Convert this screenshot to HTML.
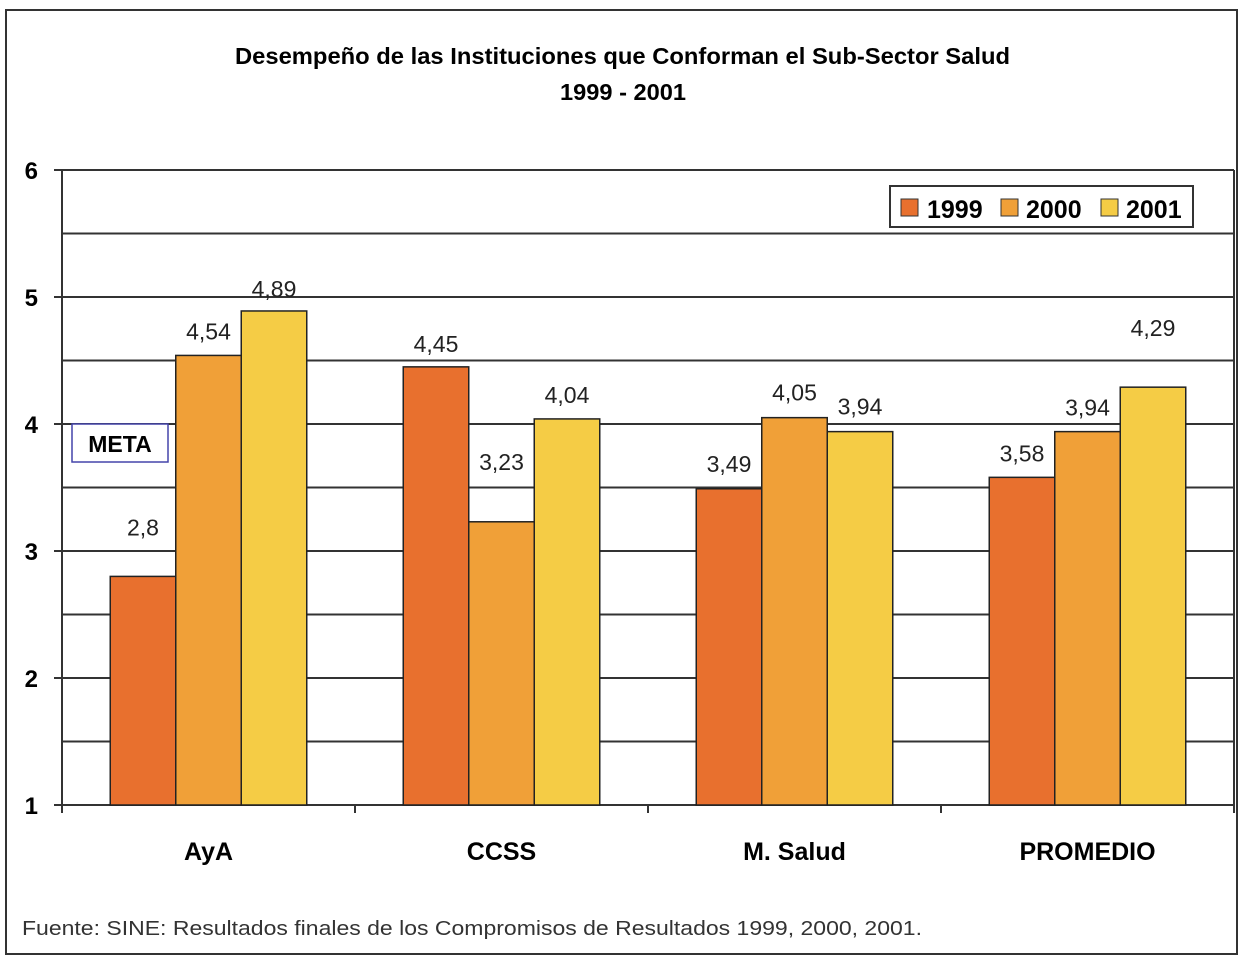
<!DOCTYPE html>
<html><head><meta charset="utf-8"><style>
body{margin:0;background:#fff;}
svg{display:block;font-family:"Liberation Sans",Arial,sans-serif;}
</style></head><body>
<svg id="chart" width="1248" height="958" viewBox="0 0 1248 958">
<rect x="6" y="10" width="1231" height="944" fill="#fff" stroke="#333" stroke-width="2"/>
<text x="235" y="64" font-size="23" font-weight="bold" textLength="775" lengthAdjust="spacingAndGlyphs">Desempeño de las Instituciones que Conforman el Sub-Sector Salud</text>
<text x="560" y="100" font-size="23" font-weight="bold" textLength="126" lengthAdjust="spacingAndGlyphs">1999 - 2001</text>
<g id="grid"></g>
<g id="bars"></g>
<g id="labels"></g>
<rect x="72" y="424" width="96" height="38" fill="#fff" stroke="#4444aa" stroke-width="1.5"/>
<text x="120" y="452" text-anchor="middle" font-size="23" font-weight="bold">META</text>
<g>
<rect x="890" y="186" width="303" height="41" fill="#fff" stroke="#333" stroke-width="2"/>
<rect x="901" y="199" width="17" height="17" fill="#E8702E" stroke="#333"/>
<text x="927" y="218" font-size="25" font-weight="bold">1999</text>
<rect x="1001" y="199" width="17" height="17" fill="#F0A038" stroke="#333"/>
<text x="1026" y="218" font-size="25" font-weight="bold">2000</text>
<rect x="1101" y="199" width="17" height="17" fill="#F5CC45" stroke="#333"/>
<text x="1126" y="218" font-size="25" font-weight="bold">2001</text>
</g>
<text x="22" y="935" font-size="20" fill="#333" textLength="900" lengthAdjust="spacingAndGlyphs">Fuente: SINE: Resultados finales de los Compromisos de Resultados 1999, 2000, 2001.</text>
</svg>
<script>
const categories=["AyA","CCSS","M. Salud","PROMEDIO"];
const series=["1999","2000","2001"];
const v1999=[2.8,4.45,3.49,3.58];
const v2000=[4.54,3.23,4.05,3.94];
const v2001=[4.89,4.04,3.94,4.29];
const yTicks=[1,2,3,4,5,6];
const colors=["#E8702E","#F0A038","#F5CC45"];
// manual label offsets above bar top (pixels), per series per category
const off=[[41,15,17,16],[16,52,17,16],[14,16,17,51]];
const NS="http://www.w3.org/2000/svg";
const X0=62,X1=1234,Y0=805,Y1=170,YMIN=1,YMAX=6;
function y(v){return Y0-(v-YMIN)/(YMAX-YMIN)*(Y0-Y1);}
const band=(X1-X0)/categories.length;
function cx(i){return X0+band*(i+0.5);}
function mk(tag,attrs,parent){const e=document.createElementNS(NS,tag);for(const k in attrs)e.setAttribute(k,attrs[k]);parent.appendChild(e);return e;}
const grid=document.getElementById('grid'),bars=document.getElementById('bars'),labels=document.getElementById('labels');
for(let t=YMIN;t<=YMAX;t+=0.5){
 const l=mk('line',{x1:X0,x2:X1,y1:y(t),y2:y(t),stroke:'#333','stroke-width':2},grid);
 
 
}
yTicks.forEach(t=>{
 const tk=mk('line',{x1:X0-8,x2:X0,y1:y(t),y2:y(t),stroke:'#333','stroke-width':2},grid);
 
 
 const tx=mk('text',{x:38,y:y(t)+9,'text-anchor':'end','font-size':24,'font-weight':'bold'},grid);
 tx.textContent=t;
 
 
});
const ax=mk('line',{x1:X0,x2:X0,y1:Y1,y2:Y0,stroke:'#333','stroke-width':2},grid);


const ra=mk('line',{x1:X1,x2:X1,y1:Y1,y2:Y0,stroke:'#333','stroke-width':2},grid);


for(let i=0;i<=categories.length;i++){
 const t=mk('line',{x1:X0+band*i,x2:X0+band*i,y1:Y0,y2:Y0+8,stroke:'#333','stroke-width':2},grid);
 
 
}
const vals=[v1999,v2000,v2001];
const bw=65.5;
categories.forEach((c,i)=>{
 const start=cx(i)-bw*1.5;
 vals.forEach((arr,s)=>{
  const v=arr[i];
  const r=mk('rect',{x:start+s*bw,y:y(v),width:bw,height:Y0-y(v),fill:colors[s],stroke:'#222','stroke-width':1.5},bars);
  
  
  const tx=mk('text',{x:start+s*bw+bw/2,y:y(v)-off[s][i],'text-anchor':'middle','font-size':23,fill:'#222'},labels);
  tx.textContent=String(v).replace('.',',');
  
  
 });
 const cl=mk('text',{x:cx(i),y:860,'text-anchor':'middle','font-size':25,'font-weight':'bold'},labels);
 cl.textContent=c;
 
 
});
</script>
</body></html>
